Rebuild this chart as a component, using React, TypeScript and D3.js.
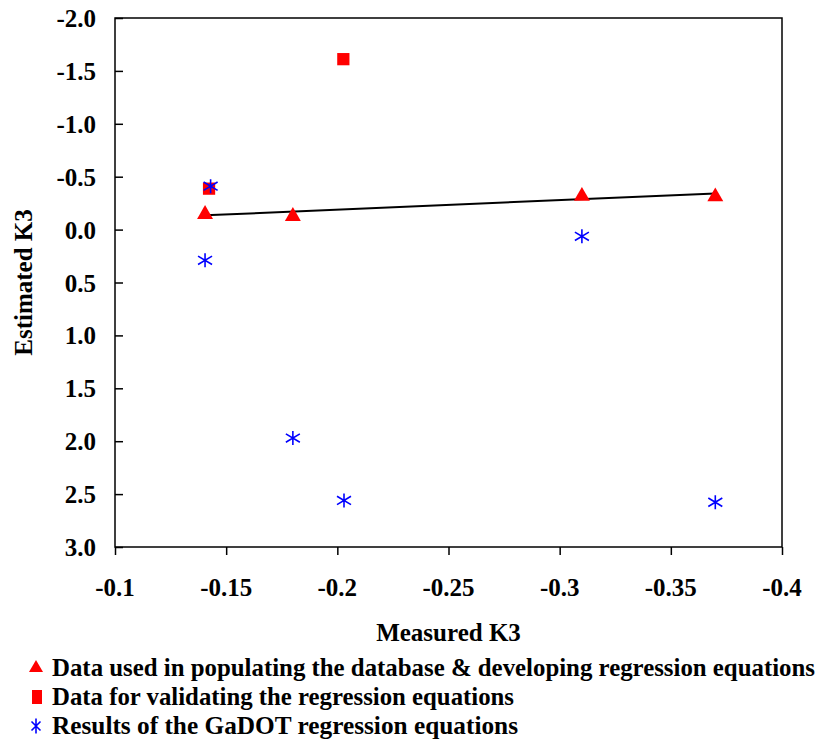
import * as d3 from "d3";
import { useEffect, useRef } from "react";

// measured K3 / estimated K3
const devX = [-0.1405, -0.18, -0.31, -0.37];
const devY = [-0.154, -0.135, -0.325, -0.32];

const valX = [-0.1423, -0.2027];
const valY = [-0.387, -1.611];

const gadotX = [-0.143, -0.1405, -0.18, -0.203, -0.31, -0.37];
const gadotY = [-0.41, 0.29, 1.97, 2.56, 0.063, 2.577];

const xTicks = [-0.1, -0.15, -0.2, -0.25, -0.3, -0.35, -0.4];
const yTicks = [-2.0, -1.5, -1.0, -0.5, 0.0, 0.5, 1.0, 1.5, 2.0, 2.5, 3.0];

const legendLabels = [
  "Data used in populating the database & developing regression equations",
  "Data for validating the regression equations",
  "Results of the GaDOT regression equations",
];

const W = 821;
const H = 745;
const FONT = "Liberation Serif";

const App = () => {
  const svgRef = useRef<SVGSVGElement>(null);

  useEffect(() => {
    const svg = d3.select(svgRef.current).html("");

    const left = 115, right = 782, top = 18, bottom = 547;

    const x = d3.scaleLinear().domain([-0.1, -0.4]).range([left, right]);
    const y = d3.scaleLinear().domain([-2.0, 3.0]).range([top, bottom]);

    const txt = (sel: any, size = 25) =>
      sel.attr("font-family", FONT).attr("font-weight", "bold").attr("font-size", size).attr("fill", "#000");

    // plot frame
    svg.append("rect")
      .attr("x", left).attr("y", top)
      .attr("width", right - left).attr("height", bottom - top)
      .attr("fill", "none").attr("stroke", "#000").attr("stroke-width", 1.5);

    // y axis: ticks inside, labels left
    const yAxis = svg.append("g").attr("transform", `translate(${left},0)`)
      .call(d3.axisRight(y).tickValues(yTicks).tickSize(8).tickFormat(() => ""));
    yAxis.select(".domain").remove();
    yAxis.selectAll("line").attr("stroke", "#000").attr("stroke-width", 1.5);

    svg.append("g").selectAll("text").data(yTicks).join("text")
      .attr("x", left - 19).attr("y", d => y(d) + 9)
      .attr("text-anchor", "end")
      .call(txt)
      .text(d => d.toFixed(1));

    // x axis: ticks outside, labels below
    const xAxis = svg.append("g").attr("transform", `translate(0,${bottom})`)
      .call(d3.axisBottom(x).tickValues(xTicks).tickSize(8).tickFormat(() => ""));
    xAxis.select(".domain").remove();
    xAxis.selectAll("line").attr("stroke", "#000").attr("stroke-width", 1.5);

    svg.append("g").selectAll("text").data(xTicks).join("text")
      .attr("x", d => x(d)).attr("y", bottom + 49)
      .attr("text-anchor", "middle")
      .call(txt)
      .text(d => String(d));

    // axis titles
    svg.append("text")
      .attr("x", (left + right) / 2).attr("y", 641)
      .attr("text-anchor", "middle")
      .call(txt)
      .text("Measured K3");

    svg.append("text")
      .attr("transform", `translate(32,${(top + bottom) / 2}) rotate(-90)`)
      .attr("text-anchor", "middle")
      .call(txt)
      .text("Estimated K3");

    // linear trend through the development data
    const mx = d3.mean(devX)!;
    const my = d3.mean(devY)!;
    const sxy = d3.sum(devX, (v, i) => (v - mx) * (devY[i] - my));
    const sxx = d3.sum(devX, v => (v - mx) ** 2);
    const slope = sxy / sxx;
    const ext = d3.extent(devX) as [number, number];
    const line = d3.line<number>().x(v => x(v)).y(v => y(my + slope * (v - mx)));
    svg.append("path")
      .attr("d", line(ext))
      .attr("fill", "none").attr("stroke", "#000").attr("stroke-width", 2);

    const tri = d3.symbol().type(d3.symbolTriangle).size(110);
    const sq = d3.symbol().type(d3.symbolSquare).size(150);

    // asterisk marker: vertical bar + X
    const star = (g: any, cx: number, cy: number, rx: number, ry: number) => {
      const p = d3.path();
      p.moveTo(cx, cy - ry); p.lineTo(cx, cy + ry);
      p.moveTo(cx - rx, cy - ry * 0.6); p.lineTo(cx + rx, cy + ry * 0.6);
      p.moveTo(cx - rx, cy + ry * 0.6); p.lineTo(cx + rx, cy - ry * 0.6);
      g.append("path").attr("d", p.toString())
        .attr("fill", "none").attr("stroke", "#0000ff").attr("stroke-width", 1.6);
    };

    const pts = svg.append("g");
    devX.forEach((v, i) => {
      pts.append("path").attr("d", tri())
        .attr("transform", `translate(${x(v)},${y(devY[i]) + 1})`)
        .attr("fill", "#ff0000");
    });
    valX.forEach((v, i) => {
      pts.append("path").attr("d", sq())
        .attr("transform", `translate(${x(v)},${y(valY[i])})`)
        .attr("fill", "#ff0000");
    });
    gadotX.forEach((v, i) => star(pts, x(v), y(gadotY[i]), 7, 7));

    // legend
    const lg = svg.append("g");
    const rows = [676, 705, 734];
    lg.append("path").attr("d", d3.symbol().type(d3.symbolTriangle).size(85)())
      .attr("transform", `translate(36,${rows[0] - 8})`).attr("fill", "#ff0000");
    lg.append("path").attr("d", "M-5,-7H5V7H-5Z")
      .attr("transform", `translate(37,${rows[1] - 8})`).attr("fill", "#ff0000");
    star(lg, 36, rows[2] - 8, 4.5, 7.5);

    const widths = [763, 462, 466];
    legendLabels.forEach((t, i) => {
      lg.append("text")
        .attr("x", 52).attr("y", rows[i])
        .attr("textLength", widths[i]).attr("lengthAdjust", "spacingAndGlyphs")
        .call(txt, 24.5)
        .text(t);
    });
  }, []);

  return (
    <svg
      ref={svgRef}
      width={W}
      height={H}
      style={{ position: "absolute", left: 0, top: 0, background: "#fff" }}
    />
  );
};

export default App;
